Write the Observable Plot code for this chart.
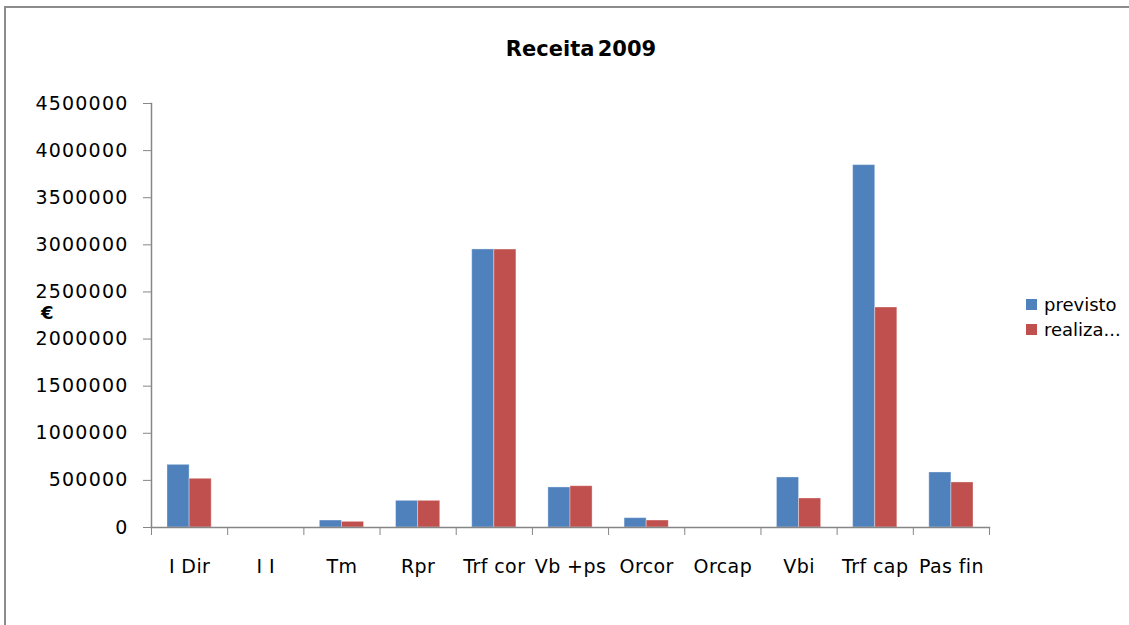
<!DOCTYPE html>
<html>
<head>
<meta charset="utf-8">
<script src="https://cdn.jsdelivr.net/npm/d3@7"></script>
<script src="https://cdn.jsdelivr.net/npm/@observablehq/plot@0.6"></script>
<style>
  body { margin: 0; background: #fff; font-family: "DejaVu Sans", sans-serif; }
  #wrap { position: relative; width: 1129px; height: 625px; overflow: hidden; background: #fff; }
  #border { position: absolute; left: 4px; top: 6px; width: 1300px; height: 800px;
            border-top: 2px solid #8c8c8c; border-left: 2px solid #8c8c8c; pointer-events: none; }
  #chart { position: absolute; left: 0; top: 0; }
  #title { position: absolute; left: 0; width: 1162px; top: 37px; text-align: center;
           font: bold 21px "DejaVu Sans", sans-serif; color: #000; word-spacing: -4px; }
  #unit { position: absolute; left: 41px; top: 302px; font: bold 18px "DejaVu Sans", sans-serif; color: #000; }
  #legend { position: absolute; left: 1026px; top: 292px; font: 18px "DejaVu Sans", sans-serif; color: #000; }
  .item { display: flex; align-items: center; height: 25px; }
  .sw { width: 11px; height: 11px; margin-right: 7px; }
  g[aria-label="y-axis tick label"] text { font-size: 19px; letter-spacing: 1.2px; }
  g[aria-label="x-axis tick label"] text { font-size: 19px; letter-spacing: 0.4px; }
</style>
</head>
<body>
<div id="wrap">
  <div id="chart"></div>
  <div id="border"></div>
  <div id="title">Receita 2009</div>
  <div id="unit">€</div>
  <div id="legend"></div>
</div>
<script>
const categories = ["I Dir", "I I", "Tm", "Rpr", "Trf cor", "Vb +ps", "Orcor", "Orcap", "Vbi", "Trf cap", "Pas fin"];
const seriesNames = ["previsto", "realizado"];
const legendLabels = ["previsto", "realiza..."];
const seriesColors = ["#4F81BD", "#C0504D"];
const previsto  = [665000, 0, 74000, 283000, 2951000, 425000, 99000, 0, 531000, 3846000, 584000];
const realizado = [517000, 0, 60000, 283000, 2950000, 438000, 74000, 0, 308000, 2335000, 478000];
const yTicks = [0, 500000, 1000000, 1500000, 2000000, 2500000, 3000000, 3500000, 4000000, 4500000];

const rows = [];
categories.forEach((c, i) => {
  rows.push({cat: c, i, s: 0, series: seriesNames[0], value: previsto[i]});
  rows.push({cat: c, i, s: 1, series: seriesNames[1], value: realizado[i]});
});

const axisColor = "#868686";
const groupStart = 0.21, groupMid = 0.5, groupEnd = 0.79;

const chart = Plot.plot({
  width: 1129,
  height: 625,
  marginLeft: 151,
  marginRight: 140,
  marginTop: 103,
  marginBottom: 98,
  style: { fontFamily: "DejaVu Sans, sans-serif", fontSize: "18px", color: "#000", background: "transparent" },
  x: { type: "linear", domain: [0, categories.length] },
  y: { domain: [0, 4500000], nice: false },
  color: { domain: seriesNames, range: seriesColors },
  marks: [
    Plot.rect(rows, {
      x1: d => d.i + (d.s === 0 ? groupStart : groupMid),
      x2: d => d.i + (d.s === 0 ? groupMid : groupEnd),
      y1: 0,
      y2: "value",
      fill: "series",
      stroke: "#ffffff",
      strokeOpacity: 0.35,
      strokeWidth: 1
    }),
    Plot.axisY({
      ticks: yTicks, tickSize: 8, tickPadding: 15,
      tickFormat: d3.format("d"), stroke: axisColor, fill: "#000", label: null
    }),
    Plot.axisX({
      ticks: d3.range(0, categories.length + 1), tickSize: 8,
      tickFormat: () => "", stroke: axisColor, label: null
    }),
    Plot.axisX({
      ticks: d3.range(categories.length).map(i => i + 0.5), tickSize: 0, tickPadding: 32,
      tickFormat: d => categories[Math.floor(d)], fill: "#000", label: null
    }),
    Plot.frame({anchor: "left", stroke: axisColor, strokeWidth: 1.5}),
    Plot.frame({anchor: "bottom", stroke: axisColor, strokeWidth: 1.5})
  ]
});
document.getElementById("chart").appendChild(chart);

const legend = document.getElementById("legend");
legendLabels.forEach((lab, k) => {
  const it = document.createElement("div");
  it.className = "item";
  const sw = document.createElement("span");
  sw.className = "sw";
  sw.style.background = seriesColors[k];
  const tx = document.createElement("span");
  tx.textContent = lab;
  it.appendChild(sw);
  it.appendChild(tx);
  legend.appendChild(it);
});
</script>
</body>
</html>
